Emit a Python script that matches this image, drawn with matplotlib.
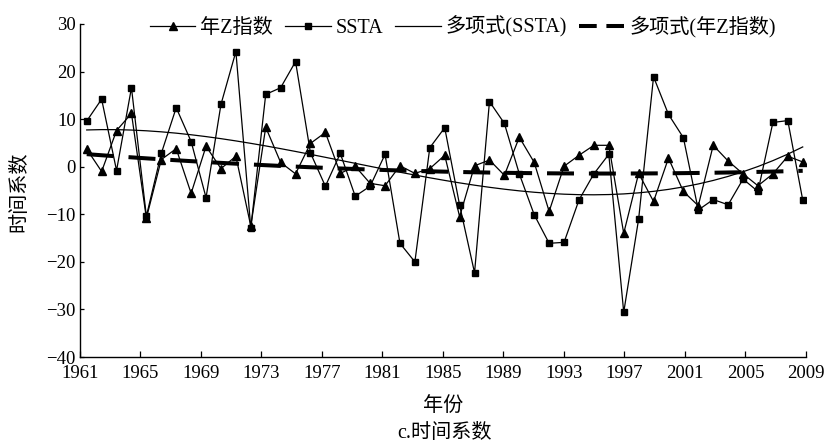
import numpy as np
import matplotlib
matplotlib.use("Agg")
import matplotlib.pyplot as plt
from matplotlib.lines import Line2D

plt.rcParams['font.family'] = ['Liberation Serif', 'Noto Sans CJK SC', 'DejaVu Sans']

years = np.arange(1961, 2010)

# 年Z指数
z_index = [3.7, -1.0, 7.6, 11.2, -10.8, 1.5, 3.8, -5.6, 4.3, -0.4,
           2.2, -12.5, 8.3, 0.9, -1.5, 4.9, 7.2, -1.4, 0.1, -3.5,
           -4.0, 0.2, -1.4, -0.4, 2.4, -10.5, 0.2, 1.4, -1.8, 6.2,
           0.9, -9.4, 0.1, 2.4, 4.5, 4.5, -14.0, -1.4, -7.3, 1.8,
           -5.2, -8.2, 4.5, 1.2, -1.5, -4.0, -1.5, 2.2, 1.0]

# SSTA
ssta = [9.6, 14.2, -0.8, 16.6, -10.4, 2.8, 12.4, 5.3, -6.5, 13.1,
        24.2, -12.9, 15.2, 16.6, 22.1, 2.9, -4.1, 2.8, -6.2, -4.1,
        2.6, -16.1, -20.0, 4.0, 8.2, -8.1, -22.3, 13.7, 9.1, -1.5,
        -10.1, -16.1, -15.9, -7.0, -1.5, 2.6, -30.6, -11.0, 18.9, 11.0,
        6.1, -9.1, -6.9, -8.0, -2.6, -5.2, 9.3, 9.7, -7.0]

tick_labels = [str(y) for y in range(1961, 2010, 4)]

# polynomial trendlines
t = years - years[0]
ssta_fit = np.polyval(np.polyfit(t, ssta, 3), t)
z_fit = np.polyval(np.polyfit(t, z_index, 2), t)

fig = plt.figure(figsize=(8.3, 4.44), dpi=100)
ax = fig.add_axes([80/830, 1-357/444, 726/830, 333/444])

l1, = ax.plot(years, z_index, color='black', lw=0.9, marker='^', ms=6,
              mfc='black', mec='black', label='年Z指数')
l2, = ax.plot(years, ssta, color='black', lw=0.9, marker='s', ms=5,
              mfc='black', mec='black', label='SSTA')
l3, = ax.plot(years, ssta_fit, color='black', lw=0.9, label='多项式(SSTA)')
l4, = ax.plot(years, z_fit, color='black', lw=2.9, dash_capstyle='butt',
              label='多项式(年Z指数)')
l4.set_dashes((6.7, 3.7))

# shorter dashes for the legend key so two of them show
l4_key = Line2D([], [], color='black', lw=2.9, dash_capstyle='butt',
                dashes=(4.4, 2.4), label='多项式(年Z指数)')

x0, x1 = 1960.55, 2009.22
ax.set_xlim(x0, x1)
ax.set_ylim(-40, 30)
ax.set_xticks(np.linspace(x0, x1, len(tick_labels)))
ax.set_xticklabels(tick_labels)
ax.set_yticks(range(-40, 31, 10))
ax.set_yticklabels([str(v).replace('-', '\u2212') for v in range(-40, 31, 10)])

for s in ['top', 'right']:
    ax.spines[s].set_visible(False)
for s in ['left', 'bottom']:
    ax.spines[s].set_linewidth(1.0)
ax.tick_params(axis='x', direction='in', length=4, width=0.9, labelsize=13.5, pad=6)
ax.tick_params(axis='y', direction='in', length=3, width=0.9, labelsize=13.5, pad=3)

leg = fig.legend(handles=[l1, l2, l3, l4_key], loc='center',
                 bbox_to_anchor=(463/830, 1-27/444), ncol=4, frameon=False,
                 fontsize=14.5, handlelength=2.25, handletextpad=0.25,
                 columnspacing=0.6, borderpad=0)

fig.text(20/830, 1-192/444, '时间系数', rotation=90, ha='center', va='center',
         fontsize=14.5)
fig.text(443/830, 1-406/444, '年份', ha='center', va='center', fontsize=14.5)
fig.text(444/830, 1-433/444, 'c.时间系数', ha='center', va='center', fontsize=14.5)

fig.savefig('out.png', dpi=100)
